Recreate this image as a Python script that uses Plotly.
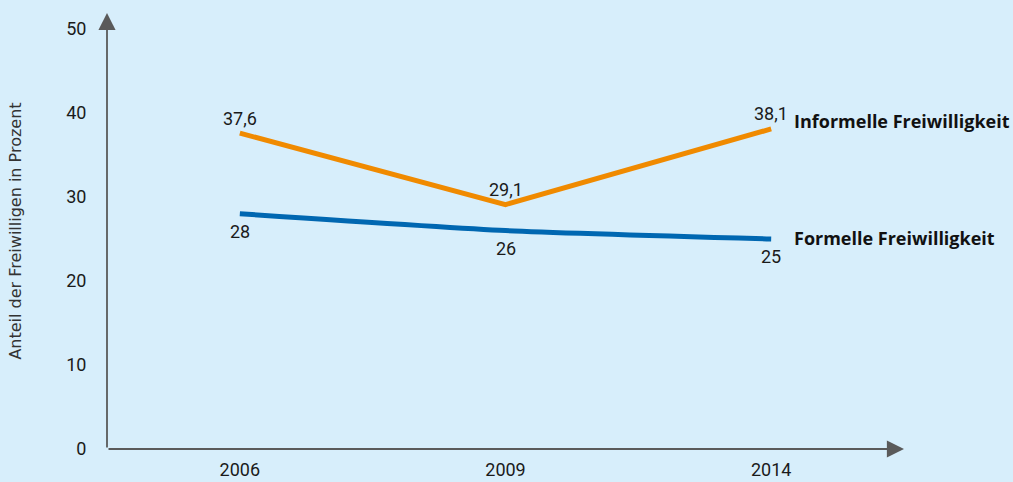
import plotly.graph_objects as go

years = ["2006", "2009", "2014"]
informell = [37.6, 29.1, 38.1]
formell = [28, 26, 25]
informell_labels = ["37,6", "29,1", "38,1"]
formell_labels = ["28", "26", "25"]
y_ticks = [0, 10, 20, 30, 40, 50]
series_names = ["Informelle Freiwilligkeit", "Formelle Freiwilligkeit"]

bg = "#d7eefb"
axis_col = "#5a5a5a"
num_font = dict(family="Roboto", size=18, color="#1a1a1a")
name_font = dict(family="Open Sans", size=18, color="#111111")

fig = go.Figure()
fig.add_trace(go.Scatter(
    x=years, y=formell, mode="lines",
    line=dict(color="#0067b1", width=5, shape="spline", smoothing=0.5),
    cliponaxis=False, showlegend=False))
fig.add_trace(go.Scatter(
    x=years, y=informell, mode="lines",
    line=dict(color="#f08a00", width=5),
    cliponaxis=False, showlegend=False))

# data labels
for i, (v, t) in enumerate(zip(informell, informell_labels)):
    fig.add_annotation(x=i, y=v, text=t, showarrow=False, yshift=15, font=num_font)
for i, (v, t) in enumerate(zip(formell, formell_labels)):
    fig.add_annotation(x=i, y=v, text=t, showarrow=False, yshift=-18, font=num_font)

# axis arrows
fig.add_annotation(x=2.5, y=0, ax=-0.5, ay=0, xref="x", yref="y", axref="x", ayref="y",
                   text="", showarrow=True, arrowhead=2, arrowsize=1.9, arrowwidth=1.8,
                   arrowcolor=axis_col)
fig.add_annotation(x=-0.5, y=51.9, ax=-0.5, ay=0, xref="x", yref="y", axref="x", ayref="y",
                   text="", showarrow=True, arrowhead=2, arrowsize=1.9, arrowwidth=1.8,
                   arrowcolor=axis_col)

# series labels
fig.add_annotation(x=len(years) - 1, y=informell[-1], text="<b>" + series_names[0] + "</b>",
                   showarrow=False, xanchor="left", xshift=21, yshift=8, font=name_font)
fig.add_annotation(x=len(years) - 1, y=formell[-1], text="<b>" + series_names[1] + "</b>",
                   showarrow=False, xanchor="left", xshift=21, yshift=1, font=name_font)

fig.update_layout(
    width=1013, height=482,
    margin=dict(l=107, r=109, t=13, b=33, autoexpand=False),
    paper_bgcolor=bg, plot_bgcolor=bg,
    xaxis=dict(type="category", range=[-0.5, 2.5], showgrid=False, zeroline=False,
               showline=False, ticks="outside", ticklen=4, tickcolor="rgba(0,0,0,0)",
               tickfont=num_font, automargin=False),
    yaxis=dict(range=[0, 51.9], tickvals=y_ticks, showgrid=False, zeroline=False,
               showline=False, ticks="outside", ticklen=16, tickcolor="rgba(0,0,0,0)",
               tickfont=num_font, automargin=False,
               title=dict(text="Anteil der Freiwilligen in Prozent", standoff=40,
                          font=dict(family="DejaVu Sans", size=16, color="#333333"))),
)

fig.write_html("out.html", post_script="document.body.style.margin='0';",
               config={"displayModeBar": False})
